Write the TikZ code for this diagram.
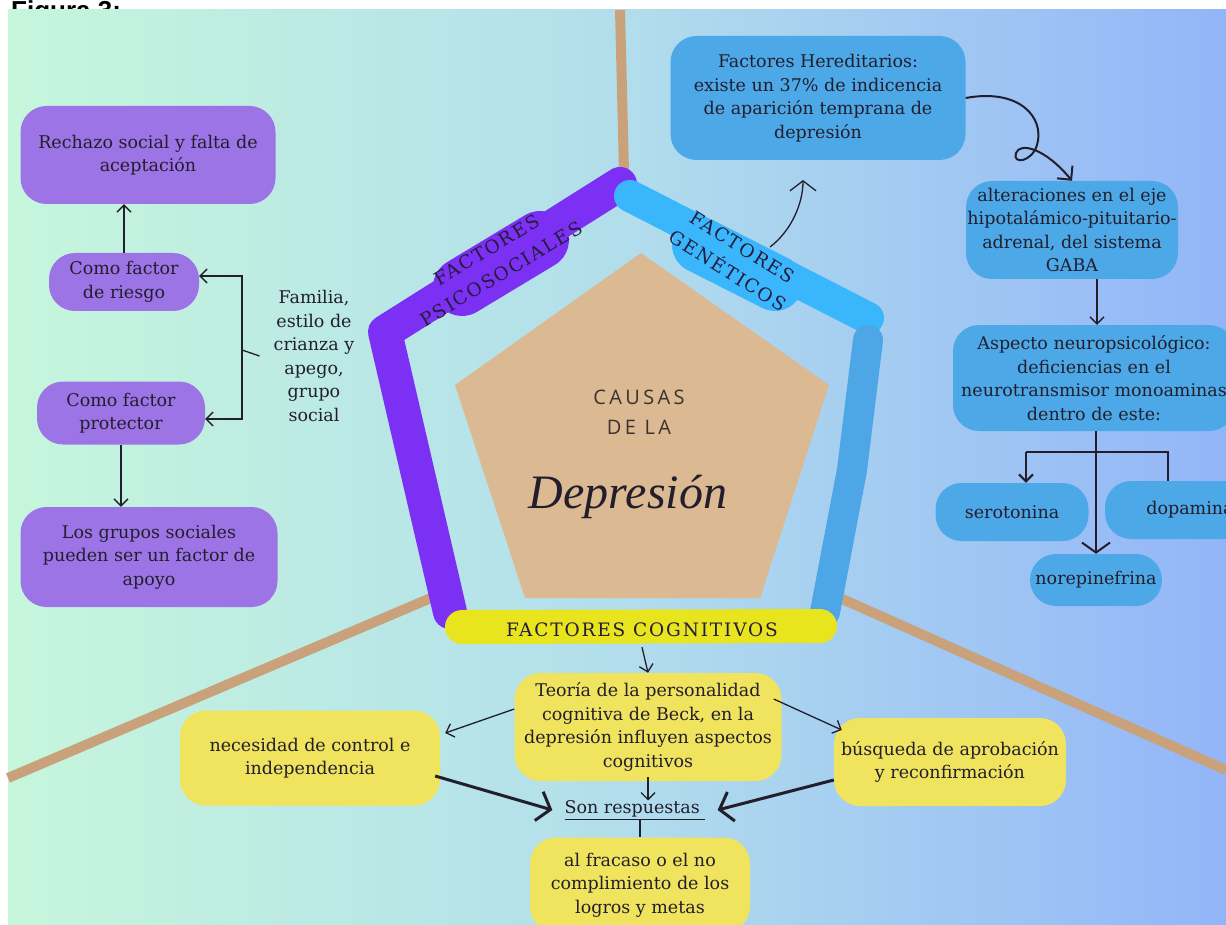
\documentclass[tikz,border=0pt]{standalone}
\usepackage{fontspec}
\setmainfont{DejaVu Serif}
\newfontfamily\figfont{Liberation Sans}
\newfontfamily\causasfont[LetterSpace=17]{Open Sans}
\newfontfamily\bandfont[LetterSpace=10]{DejaVu Serif}
\newfontfamily\titlefont{Liberation Serif}
\usetikzlibrary{arrows.meta,positioning}

\definecolor{bgleft}{RGB}{198,246,220}
\definecolor{bgmid}{RGB}{178,222,236}
\definecolor{bgright}{RGB}{147,181,248}
\definecolor{tanline}{RGB}{201,162,124}
\definecolor{pentafill}{RGB}{219,185,147}
\definecolor{bandpurple}{RGB}{124,48,243}
\definecolor{bandblue}{RGB}{58,182,252}
\definecolor{banddark}{RGB}{77,166,230}
\definecolor{bandyellow}{RGB}{232,228,30}
\definecolor{boxpurple}{RGB}{157,116,230}
\definecolor{boxblue}{RGB}{77,168,232}
\definecolor{boxyellow}{RGB}{240,228,94}
\definecolor{ink}{RGB}{34,30,44}
\definecolor{bandink}{RGB}{36,28,60}
\definecolor{causasink}{RGB}{60,50,45}

\tikzset{
  blob/.style={rounded corners=26pt, inner sep=0pt, align=center, text=ink,
    font=\fontsize{17.5}{23.5}\selectfont},
  plaintext/.style={inner sep=0pt, align=center, text=ink, font=\fontsize{17.5}{23.5}\selectfont},
  bandtext/.style={inner sep=0pt, align=center, text=bandink, font=\bandfont\fontsize{18.5}{28}\selectfont},
  arr/.style={ink, line width=1.3pt, -{Straight Barb[length=7pt,width=14pt]}},
  bigarr/.style={ink, line width=3pt, -{Straight Barb[length=12pt,width=30pt]}},
}

\begin{document}
\begin{tikzpicture}[x=1pt, y=-1pt, every node/.style={inner sep=0pt}]
\useasboundingbox (0,0) rectangle (1226,925);
\fill[white] (0,0) rectangle (1226,925);
\node[anchor=base west, font=\figfont\bfseries\fontsize{26}{26}\selectfont] (Fig) at (11,20) {Figura 3:};
\shade[left color=bgleft, right color=bgright, middle color=bgmid] (8,10) rectangle (1226,925);

% dividers
\draw[tanline, line width=10pt] (620,10) -- (624,172);
\draw[tanline, line width=10pt] (8,778) -- (445,592);
\draw[tanline, line width=10pt] (840,598) -- (1226,770);

% pentagon
\coordinate (Top) at (641,253);
\coordinate (UR) at (829,385);
\coordinate (LR) at (760,598);
\coordinate (LL) at (525,598);
\coordinate (UL) at (455,385);
\fill[pentafill] (Top) -- (UR) -- (LR) -- (LL) -- (UL) -- cycle;

% bands
\draw[bandpurple, line width=34pt, line cap=round, line join=round] (620,184) -- (385,332) -- (450,612);
\draw[bandpurple, line width=58pt, line cap=round] (462,287) -- (540,240);
\draw[bandblue, line width=32pt, line cap=round] (630,196) -- (868,318);
\draw[bandblue, line width=56pt, line cap=round] (700,245) -- (775,283);
\draw[banddark, line width=30pt, line cap=round, line join=round] (868,340) -- (852,470) -- (825,612);
\draw[bandyellow, line width=34pt, line cap=round] (462,627) -- (820,626);

\node[bandtext, rotate=31] (Psico) at (494,262) {FACTORES\\PSICOSOCIALES};
\node[bandtext, rotate=-32] (Gen) at (735,259) {FACTORES\\GENÉTICOS};
\node[bandtext] (Cognitivos) at (642,630) {FACTORES COGNITIVOS};

\node[font=\causasfont\fontsize{20}{20}\selectfont, text=causasink] (Causas) at (639,397) {CAUSAS};
\node[font=\causasfont\fontsize{20}{20}\selectfont, text=causasink] (DeLa) at (639,427) {DE LA};
\node[font=\titlefont\itshape\fontsize{48}{48}\selectfont, text=ink] (Depresion) at (628,497) {Depresión};

% psicosociales
\begin{scope}[every node/.style={blob, fill=boxpurple}]
\node[minimum width=255pt, minimum height=98pt] (Rechazo) at (148,155) {Rechazo social y falta de\\aceptación};
\node[minimum width=150pt, minimum height=58pt] (Riesgo) at (124,282) {Como factor\\de riesgo};
\node[minimum width=168pt, minimum height=63pt] (Protector) at (121,413) {Como factor\\protector};
\node[minimum width=257pt, minimum height=100pt] (Grupos) at (149,557) {Los grupos sociales\\pueden ser un factor de\\apoyo};
\end{scope}
\node[plaintext] (Familia) at (314,356) {Familia,\\estilo de\\crianza y\\apego,\\grupo\\social};

\coordinate (Brk) at (242,350);
\draw[arr] (Brk) |- ([yshift=6pt]Riesgo.east);
\draw[arr] (Brk) |- ([yshift=-6pt]Protector.east);
\draw[ink, line width=1.3pt] (Brk) -- ([xshift=-14pt]Familia.west);
\draw[arr] (Riesgo.north) -- (Riesgo.north |- Rechazo.south);
\draw[arr] (Protector.south) -- (Protector.south |- Grupos.north);

% geneticos
\begin{scope}[every node/.style={blob, fill=boxblue}]
\node[minimum width=295pt, minimum height=124pt] (Hereditarios) at (818,98) {Factores Hereditarios:\\existe un 37\% de indicencia\\de aparición temprana de\\depresión};
\node[minimum width=212pt, minimum height=98pt] (Alteraciones) at (1072,230) {alteraciones en el eje\\hipotalámico-pituitario-\\adrenal, del sistema\\GABA};
\node[minimum width=282pt, minimum height=106pt] (Aspecto) at (1094,378) {Aspecto neuropsicológico:\\deficiencias en el\\neurotransmisor monoaminas\\dentro de este:};
\node[minimum width=153pt, minimum height=58pt] (Sero) at (1012,512) {serotonina};
\node[minimum width=170pt, minimum height=58pt] (Dopa) at (1190,510) {dopamina};
\node[minimum width=132pt, minimum height=52pt] (Norep) at (1096,580) {norepinefrina};
\end{scope}

\coordinate (GenStart) at (770,247);
\coordinate (GenTip) at (803,180);
\draw[ink, line width=1.3pt, -{Straight Barb[length=10pt,width=26pt]}] (GenStart) .. controls (790,232) and (803,205) .. (GenTip);
\draw[ink, line width=2pt, -{Straight Barb[length=10pt,width=20pt]}] (Hereditarios.east) .. controls (1020,88) and (1045,118) .. (1037,145) .. controls (1032,162) and (1012,165) .. (1016,153) .. controls (1020,142) and (1045,148) .. (Alteraciones.north);
\draw[arr] ([xshift=25pt]Alteraciones.south) -- ([xshift=3pt]Aspecto.north);

\coordinate (Fork) at (1098,452);
\draw[ink, line width=2pt, -{Straight Barb[length=10pt,width=28pt]}] (Aspecto.south -| Norep.north) -- (Norep.north);
\draw[ink, line width=2pt] ([xshift=14pt]Sero.north |- Fork) -- ([xshift=-22pt]Dopa.north |- Fork) -- ([xshift=-22pt]Dopa.north);
\draw[arr, line width=2pt] ([xshift=14pt]Sero.north |- Fork) -- ([xshift=14pt]Sero.north);

% cognitivos
\begin{scope}[every node/.style={blob, fill=boxyellow}]
\node[minimum width=267pt, minimum height=108pt] (Teoria) at (648,727) {Teoría de la personalidad\\cognitiva de Beck, en la\\depresión influyen aspectos\\cognitivos};
\node[minimum width=260pt, minimum height=95pt] (Necesidad) at (310,758) {necesidad de control e\\independencia};
\node[minimum width=232pt, minimum height=88pt] (Busqueda) at (950,762) {búsqueda de aprobación\\y reconfirmación};
\node[minimum width=220pt, minimum height=95pt] (Fracaso) at (640,885) {al fracaso o el no\\complimiento de los\\logros y metas};
\end{scope}
\node[plaintext] (Respuestas) at (635,810) {\underline{Son respuestas\ }};

\draw[arr] ([yshift=-10pt]Cognitivos.south) -- (Teoria.north);
\draw[arr] ([yshift=18pt]Teoria.west) -- ([xshift=5pt,yshift=25pt]Necesidad.east);
\draw[arr] ([xshift=-8pt,yshift=28pt]Teoria.east) -- ([xshift=8pt,yshift=32pt]Busqueda.west);
\draw[arr] ([yshift=4pt]Teoria.south) -- (Teoria.south |- Respuestas.north);
\draw[bigarr] ([xshift=-5pt,yshift=-18pt]Necesidad.east) -- ([xshift=-12pt]Respuestas.west);
\draw[bigarr] ([yshift=-18pt]Busqueda.west) -- ([xshift=12pt]Respuestas.east);
\draw[ink, line width=1.2pt] (Respuestas.south -| Fracaso.north) -- (Fracaso.north);
\end{tikzpicture}
\end{document}
